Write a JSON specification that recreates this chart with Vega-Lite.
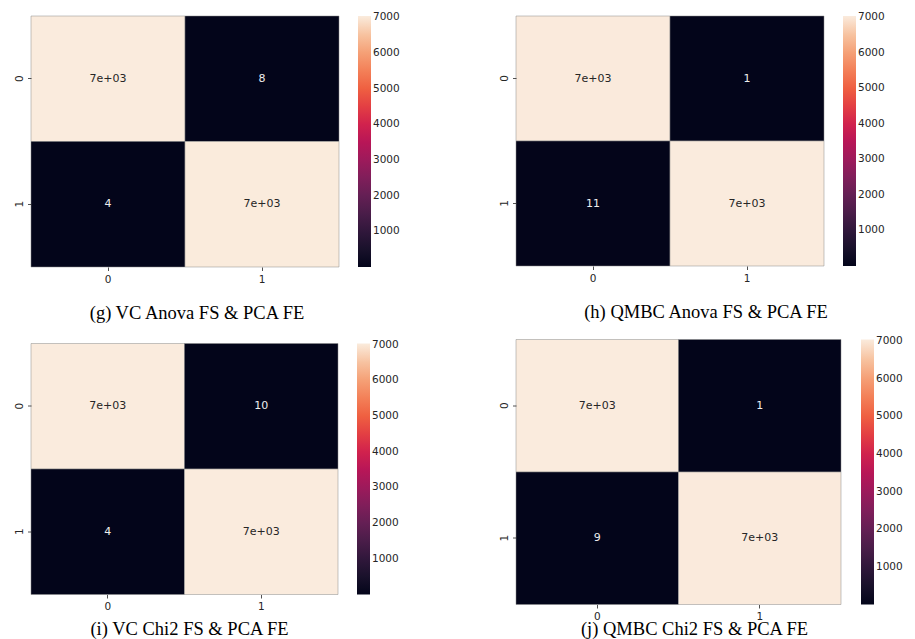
{
  "$schema": "https://vega.github.io/schema/vega-lite/v6.json",
  "background": "white",
  "padding": {"left": 14, "top": 15, "right": 0, "bottom": 0},
  "data": {
    "values": [
      {"panel": "g", "actual": 0, "pred": 0, "n": 7031},
      {"panel": "g", "actual": 0, "pred": 1, "n": 8},
      {"panel": "g", "actual": 1, "pred": 0, "n": 4},
      {"panel": "g", "actual": 1, "pred": 1, "n": 7026},
      {"panel": "h", "actual": 0, "pred": 0, "n": 7024},
      {"panel": "h", "actual": 0, "pred": 1, "n": 1},
      {"panel": "h", "actual": 1, "pred": 0, "n": 11},
      {"panel": "h", "actual": 1, "pred": 1, "n": 7035},
      {"panel": "i", "actual": 0, "pred": 0, "n": 7030},
      {"panel": "i", "actual": 0, "pred": 1, "n": 10},
      {"panel": "i", "actual": 1, "pred": 0, "n": 4},
      {"panel": "i", "actual": 1, "pred": 1, "n": 7028},
      {"panel": "j", "actual": 0, "pred": 0, "n": 7038},
      {"panel": "j", "actual": 0, "pred": 1, "n": 1},
      {"panel": "j", "actual": 1, "pred": 0, "n": 9},
      {"panel": "j", "actual": 1, "pred": 1, "n": 7029}
    ]
  },
  "config": {
    "view": {"stroke": null},
    "axis": {
      "domain": false,
      "grid": false,
      "labelFont": "DejaVu Sans",
      "labelFontSize": 10.5,
      "labelColor": "#262626",
      "tickColor": "#262626",
      "tickSize": 3.5,
      "tickWidth": 0.8,
      "labelPadding": 3.5
    },
    "legend": {
      "title": null,
      "gradientThickness": 13,
      "gradientStrokeWidth": 0,
      "offset": 19,
      "padding": 0,
      "labelFont": "DejaVu Sans",
      "labelFontSize": 10.5,
      "labelColor": "#262626",
      "labelOffset": 6,
      "labelOverlap": false
    },
    "title": {
      "orient": "bottom",
      "font": "Liberation Serif",
      "fontSize": 18.5,
      "fontWeight": "normal",
      "color": "black",
      "anchor": "middle",
      "frame": "group"
    }
  },
  "resolve": {"scale": {"color": "independent"}, "legend": {"color": "independent"}},
  "spacing": 99,
  "hconcat": [
    {
      "spacing": 20.5,
      "resolve": {"scale": {"color": "independent"}, "legend": {"color": "independent"}},
      "vconcat": [
        {
          "width": 308,
          "height": 251,
          "title": {"text": "(g) VC Anova FS & PCA FE", "offset": 19, "dx": 12},
          "transform": [
            {"filter": "datum.panel == 'g'"},
            {"calculate": "datum.n >= 100 ? replace(format(datum.n, '.0e'), 'e+', 'e+0') : '' + datum.n", "as": "label"}
          ],
          "encoding": {
            "x": {"field": "pred", "type": "ordinal", "axis": {"title": null, "labelAngle": 0}},
            "y": {"field": "actual", "type": "ordinal", "axis": {"title": null, "labelAngle": -90}}
          },
          "layer": [
            {
              "mark": {"type": "rect", "stroke": "#8a8a8a", "strokeWidth": 0.5},
              "encoding": {
                "color": {
                  "field": "n", "type": "quantitative",
                  "scale": {"zero": false, "nice": false, "range": ["#03051A", "#221331", "#451C47", "#6A1F56", "#921C5B", "#B91657", "#DA2A47", "#EE5A3E", "#F4875E", "#F6B48E", "#FAEBDD"]},
                  "legend": {"gradientLength": 251, "format": "d", "values": [1000, 2000, 3000, 4000, 5000, 6000, 7000]}
                }
              }
            },
            {
              "mark": {"type": "text", "font": "DejaVu Sans", "fontSize": 11},
              "encoding": {
                "text": {"field": "label"},
                "color": {"condition": {"test": "datum.n > 3500", "value": "#262626"}, "value": "#eeeeee"}
              }
            }
          ]
        },
        {
          "width": 307,
          "height": 251,
          "title": {"text": "(i) VC Chi2 FS & PCA FE", "offset": 8, "dx": 5},
          "transform": [
            {"filter": "datum.panel == 'i'"},
            {"calculate": "datum.n >= 100 ? replace(format(datum.n, '.0e'), 'e+', 'e+0') : '' + datum.n", "as": "label"}
          ],
          "encoding": {
            "x": {"field": "pred", "type": "ordinal", "axis": {"title": null, "labelAngle": 0}},
            "y": {"field": "actual", "type": "ordinal", "axis": {"title": null, "labelAngle": -90}}
          },
          "layer": [
            {
              "mark": {"type": "rect", "stroke": "#8a8a8a", "strokeWidth": 0.5},
              "encoding": {
                "color": {
                  "field": "n", "type": "quantitative",
                  "scale": {"zero": false, "nice": false, "range": ["#03051A", "#221331", "#451C47", "#6A1F56", "#921C5B", "#B91657", "#DA2A47", "#EE5A3E", "#F4875E", "#F6B48E", "#FAEBDD"]},
                  "legend": {"gradientLength": 251, "format": "d", "values": [1000, 2000, 3000, 4000, 5000, 6000, 7000]}
                }
              }
            },
            {
              "mark": {"type": "text", "font": "DejaVu Sans", "fontSize": 11},
              "encoding": {
                "text": {"field": "label"},
                "color": {"condition": {"test": "datum.n > 3500", "value": "#262626"}, "value": "#eeeeee"}
              }
            }
          ]
        }
      ]
    },
    {
      "spacing": 17.5,
      "resolve": {"scale": {"color": "independent"}, "legend": {"color": "independent"}},
      "vconcat": [
        {
          "width": 308,
          "height": 250,
          "title": {"text": "(h) QMBC Anova FS & PCA FE", "offset": 19, "dx": 36},
          "transform": [
            {"filter": "datum.panel == 'h'"},
            {"calculate": "datum.n >= 100 ? replace(format(datum.n, '.0e'), 'e+', 'e+0') : '' + datum.n", "as": "label"}
          ],
          "encoding": {
            "x": {"field": "pred", "type": "ordinal", "axis": {"title": null, "labelAngle": 0}},
            "y": {"field": "actual", "type": "ordinal", "axis": {"title": null, "labelAngle": -90}}
          },
          "layer": [
            {
              "mark": {"type": "rect", "stroke": "#8a8a8a", "strokeWidth": 0.5},
              "encoding": {
                "color": {
                  "field": "n", "type": "quantitative",
                  "scale": {"zero": false, "nice": false, "range": ["#03051A", "#221331", "#451C47", "#6A1F56", "#921C5B", "#B91657", "#DA2A47", "#EE5A3E", "#F4875E", "#F6B48E", "#FAEBDD"]},
                  "legend": {"gradientLength": 250, "format": "d", "values": [1000, 2000, 3000, 4000, 5000, 6000, 7000]}
                }
              }
            },
            {
              "mark": {"type": "text", "font": "DejaVu Sans", "fontSize": 11},
              "encoding": {
                "text": {"field": "label"},
                "color": {"condition": {"test": "datum.n > 3500", "value": "#262626"}, "value": "#eeeeee"}
              }
            }
          ]
        },
        {
          "width": 325,
          "height": 265,
          "title": {"text": "(j) QMBC Chi2 FS & PCA FE", "offset": -2, "dx": 16},
          "transform": [
            {"filter": "datum.panel == 'j'"},
            {"calculate": "datum.n >= 100 ? replace(format(datum.n, '.0e'), 'e+', 'e+0') : '' + datum.n", "as": "label"}
          ],
          "encoding": {
            "x": {"field": "pred", "type": "ordinal", "axis": {"title": null, "labelAngle": 0}},
            "y": {"field": "actual", "type": "ordinal", "axis": {"title": null, "labelAngle": -90}}
          },
          "layer": [
            {
              "mark": {"type": "rect", "stroke": "#8a8a8a", "strokeWidth": 0.5},
              "encoding": {
                "color": {
                  "field": "n", "type": "quantitative",
                  "scale": {"zero": false, "nice": false, "range": ["#03051A", "#221331", "#451C47", "#6A1F56", "#921C5B", "#B91657", "#DA2A47", "#EE5A3E", "#F4875E", "#F6B48E", "#FAEBDD"]},
                  "legend": {"gradientLength": 265, "offset": 20, "format": "d", "values": [1000, 2000, 3000, 4000, 5000, 6000, 7000]}
                }
              }
            },
            {
              "mark": {"type": "text", "font": "DejaVu Sans", "fontSize": 11},
              "encoding": {
                "text": {"field": "label"},
                "color": {"condition": {"test": "datum.n > 3500", "value": "#262626"}, "value": "#eeeeee"}
              }
            }
          ]
        }
      ]
    }
  ]
}
